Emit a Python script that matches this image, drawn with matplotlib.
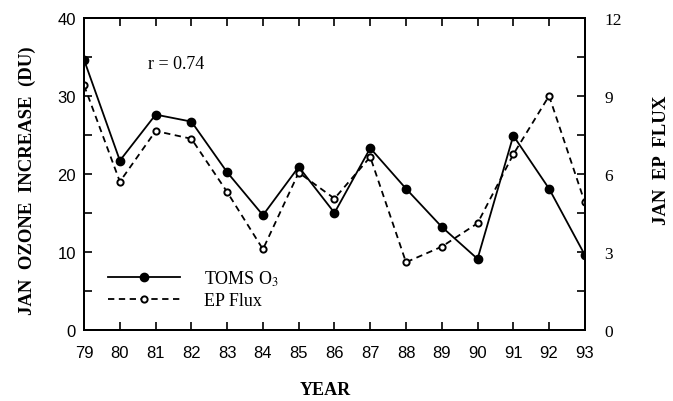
import numpy as np
import matplotlib
matplotlib.use('agg')
from matplotlib import pyplot as plt
from matplotlib.ticker import MultipleLocator

plt.rcParams['mathtext.fontset'] = 'stix'

years = [79, 80, 81, 82, 83, 84, 85, 86, 87, 88, 89, 90, 91, 92, 93]
toms_o3 = [34.6, 21.7, 27.6, 26.7, 20.2, 14.7, 20.9, 15.0, 23.3, 18.1, 13.2, 9.1, 24.9, 18.1, 9.6]
ep_flux = [9.4, 5.7, 7.65, 7.35, 5.3, 3.1, 6.05, 5.05, 6.65, 2.6, 3.2, 4.1, 6.75, 9.0, 4.9]
year_labels = [str(y) for y in years]

serif = 'Liberation Serif'
sans = 'Liberation Sans'

fig = plt.figure(figsize=(6.73, 4.02), dpi=100)
ax = fig.add_axes([0.125, 0.177, 0.744, 0.776])
ax2 = ax.twinx()

l1, = ax.plot(years, toms_o3, '-', c='k', lw=1.3, marker='o', ms=6,
              mfc='k', mec='k')
l2, = ax2.plot(years, ep_flux, '--', c='k', lw=1.3, dashes=(3.5, 2.5), marker='o', ms=4.5,
               mfc='white', mec='k', mew=1.4)

ax.set_xlim(79, 93)
ax.set_ylim(0, 40)
ax2.set_ylim(0, 12)

ax.set_xticks(years)
ax.set_xticklabels(year_labels, family=sans, fontsize=12)
ax.set_yticks([0, 10, 20, 30, 40])
ax.set_yticklabels(['0', '10', '20', '30', '40'], family=sans, fontsize=12)
ax.yaxis.set_minor_locator(MultipleLocator(5))
ax2.set_yticks([0, 3, 6, 9, 12])
ax2.set_yticklabels(['0', '3', '6', '9', '12'], family=serif, fontsize=12.5)
ax2.yaxis.set_minor_locator(MultipleLocator(1.5))

ax.tick_params(axis='x', which='both', direction='in', top=True, length=6, width=1.2, pad=11)
ax.tick_params(axis='y', which='both', direction='in', length=6, width=1.2, pad=6)
ax2.tick_params(axis='y', which='both', direction='in', length=6, width=1.2, pad=14)
for a in (ax, ax2):
    for s in a.spines.values():
        s.set_linewidth(1.4)

# axis titles placed in figure coordinates
fig.text(325 / 673, 1 - 391 / 402, 'YEAR', family=serif, fontweight='bold',
         fontsize=13, ha='center', va='center')
fig.text(27 / 673, 1 - 181 / 402, 'JAN  OZONE  INCREASE  (DU)', family=serif,
         fontweight='bold', fontsize=13.5, rotation=90, ha='center', va='center')
fig.text(662 / 673, 1 - 160 / 402, 'JAN  EP  FLUX', family=serif,
         fontweight='bold', fontsize=13.5, rotation=90, ha='center', va='center')

ax.text(80.79, 34.1, 'r = 0.74', family=serif, fontsize=13, va='center')

ax.legend([l1, l2], ['TOMS O$_{3}$', 'EP Flux'], loc='upper left',
          bbox_to_anchor=(0.048, 0.197), borderaxespad=0, borderpad=0,
          frameon=False, handlelength=4.0, handletextpad=1.3, labelspacing=0.25,
          prop={'family': serif, 'size': 13})

plt.savefig('out.png', dpi=100)
